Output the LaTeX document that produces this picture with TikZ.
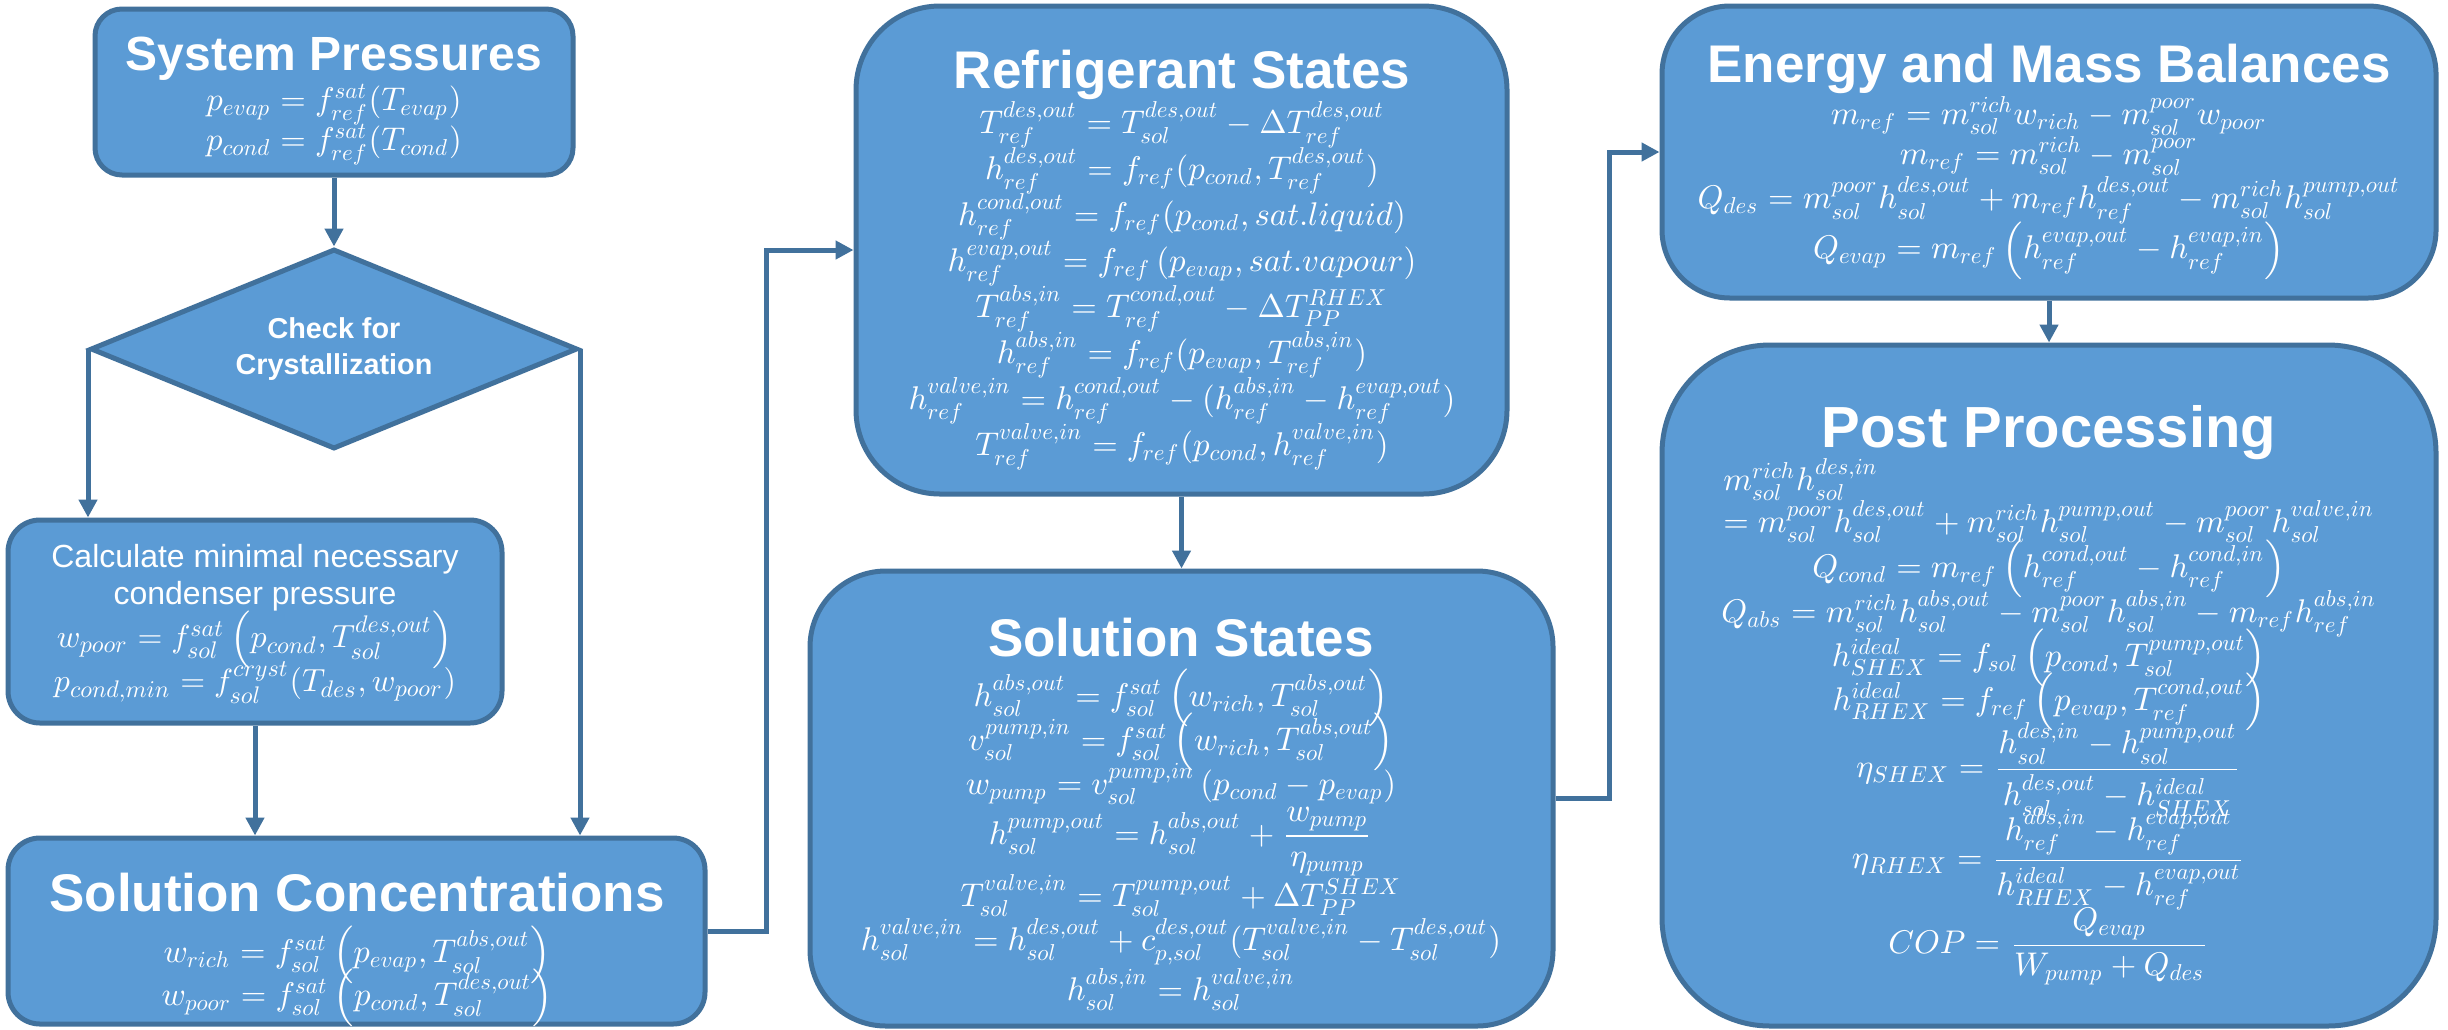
\documentclass[tikz,border=0pt]{standalone}
\usepackage{amsmath}
\usepackage[no-math]{fontspec}
\setmainfont{Liberation Sans}
\DeclareFontShape{OML}{cmm}{m}{it}{<->cmmi10}{\skewchar\font=127}
\DeclareFontShape{OT1}{cmr}{m}{n}{<->cmr10}{}
\DeclareFontShape{OMS}{cmsy}{m}{n}{<->cmsy10}{\skewchar\font=48}
\newcommand\tightlines{\lineskiplimit=-50pt\lineskip=0pt\relax}
\newsavebox\ppbox
\usetikzlibrary{shapes.geometric,arrows.meta,fit,calc}
\definecolor{bl}{HTML}{5B9BD5}
\definecolor{bd}{HTML}{41719C}
\definecolor{ln}{HTML}{41719C}
\tikzset{
  bx/.style={draw=bd, fill=bl, line width=1.25pt, inner sep=0pt},
  con/.style={draw=ln, line width=1.25pt, -{Triangle[length=4.5pt,width=4.5pt]}},
  ttl/.style={text=white, font=\bfseries\fontsize{13.25}{15}\selectfont, anchor=base, inner sep=0pt},
  eqs/.style={text=white, align=center, font=\fontsize{8.2}{#1}\selectfont\tightlines, inner sep=0pt},
  eqs/.default=10.5pt,
}
\begin{document}
\begin{tikzpicture}[x=0.25pt,y=-0.25pt]
\fill[white] (0,0) rectangle (2448,1029);
\useasboundingbox (0,0) rectangle (2448,1029);

% boxes
\node[bx, rounded corners=6.75pt, fit={(95,9)(573,175)}] (sp) {};
\node[bx, diamond, aspect=2.4, minimum width=121.75pt, minimum height=50pt, align=center, text=white,
      font=\bfseries\fontsize{7.2}{8.8}\selectfont] (dia) at (334,349) {Check for\\Crystallization};
\node[bx, rounded corners=8pt, fit={(8,520)(502,723)}] (calc) {};
\node[bx, rounded corners=8pt, fit={(8,838)(705,1024)}] (sc) {};
\node[bx, rounded corners=21pt, fit={(856,6)(1507,494)}] (rs) {};
\node[bx, rounded corners=19pt, fit={(810,571)(1553,1026)}] (ss) {};
\node[bx, rounded corners=17pt, fit={(1662,6)(2436,298)}] (emb) {};
\node[bx, rounded corners=27pt, fit={(1662,345)(2436,1026)}] (pp) {};

% connectors
\draw[con] (sp.south) -- (dia.north);
\draw[con] (dia.west) -- (dia.west |- calc.north);
\draw[con] (dia.east) -- (dia.east |- sc.north);
\draw[con] (calc.south) -- (calc.south |- sc.north);
\draw[con] (sc.east) -- ++(59,0) |- (rs.west);
\draw[con] (rs.south) -- (ss.north);
\draw[con] (ss.east) -- ++(54,0) |- (emb.west);
\draw[con] (emb.south) -- (pp.north);

% System Pressures
\node[ttl, font=\bfseries\fontsize{12}{14}\selectfont] (spt) at (334,70) {System Pressures};
\node[eqs=10pt] (spe) at (334,125) {$p_{evap}=f_{ref}^{sat}(T_{evap})$\\$p_{cond}=f_{ref}^{sat}(T_{cond})$};

% Calculate
\node[eqs=11pt, font=\fontsize{8}{11}\selectfont\tightlines] (calct) at (255,624) {Calculate minimal necessary\\[-1.75pt]condenser pressure\\[-0.25pt]
$w_{poor}=f_{sol}^{sat}\left(p_{cond},T_{sol}^{des,out}\right)$\\
$p_{cond,min}=f_{sol}^{cryst}(T_{des},w_{poor})$};

% Solution Concentrations
\node[ttl] (sct) at (357,911) {Solution Concentrations};
\node[eqs=10.75pt] (sce) at (357,976) {$w_{rich}=f_{sol}^{sat}\left(p_{evap},T_{sol}^{abs,out}\right)$\\
$w_{poor}=f_{sol}^{sat}\left(p_{cond},T_{sol}^{des,out}\right)$};

% Refrigerant States
\node[ttl] (rst) at (1182,88) {Refrigerant States};
\node[eqs=11.5pt] (rse) at (1182,286) {$T_{ref}^{des,out}=T_{sol}^{des,out}-\Delta T_{ref}^{des,out}$\\
$h_{ref}^{des,out}=f_{ref}(p_{cond},T_{ref}^{des,out})$\\
$h_{ref}^{cond,out}=f_{ref}(p_{cond},sat.liquid)$\\
$h_{ref}^{evap,out}=f_{ref}\left(p_{evap},sat.vapour\right)$\\
$T_{ref}^{abs,in}=T_{ref}^{cond,out}-\Delta T_{PP}^{RHEX}$\\
$h_{ref}^{abs,in}=f_{ref}(p_{evap},T_{ref}^{abs,in})$\\
$h_{ref}^{valve,in}=h_{ref}^{cond,out}-(h_{ref}^{abs,in}-h_{ref}^{evap,out})$\\
$T_{ref}^{valve,in}=f_{ref}(p_{cond},h_{ref}^{valve,in})$};

% Solution States
\node[ttl] (sst) at (1181,656) {Solution States};
\node[eqs=11pt] (sse) at (1181,840) {$h_{sol}^{abs,out}=f_{sol}^{sat}\left(w_{rich},T_{sol}^{abs,out}\right)$\\
$v_{sol}^{pump,in}=f_{sol}^{sat}\left(w_{rich},T_{sol}^{abs,out}\right)$\\
$w_{pump}=v_{sol}^{pump,in}\left(p_{cond}-p_{evap}\right)$\\[1.5pt]
$h_{sol}^{pump,out}=h_{sol}^{abs,out}+\dfrac{w_{pump}}{\eta_{pump}}$\\[4.5pt]
$T_{sol}^{valve,in}=T_{sol}^{pump,out}+\Delta T_{PP}^{SHEX}$\\
$h_{sol}^{valve,in}=h_{sol}^{des,out}+c_{p,sol}^{des,out}(T_{sol}^{valve,in}-T_{sol}^{des,out})$\\[1.5pt]
$h_{sol}^{abs,in}=h_{sol}^{valve,in}$};

% Energy and Mass Balances
\node[ttl] (embt) at (2049,82) {Energy and Mass Balances};
\node[eqs=10.5pt] (embe) at (2049,188) {$m_{ref}=m_{sol}^{rich}w_{rich}-m_{sol}^{poor}w_{poor}$\\[-0.5pt]
$m_{ref}=m_{sol}^{rich}-m_{sol}^{poor}$\\[0.5pt]
$Q_{des}=m_{sol}^{poor}h_{sol}^{des,out}+m_{ref}h_{ref}^{des,out}-m_{sol}^{rich}h_{sol}^{pump,out}$\\[2pt]
$Q_{evap}=m_{ref}\left(h_{ref}^{evap,out}-h_{ref}^{evap,in}\right)$};

% Post Processing
\node[ttl, font=\bfseries\fontsize{14.5}{16}\selectfont] (ppt) at (2049,447) {Post Processing};
\node[eqs=11pt] (ppe) at (2049,722) {\global\setbox\ppbox=\hbox{$=m_{sol}^{poor}h_{sol}^{des,out}+m_{sol}^{rich}h_{sol}^{pump,out}-m_{sol}^{poor}h_{sol}^{valve,in}$}\makebox[\wd\ppbox][l]{$m_{sol}^{rich}h_{sol}^{des,in}$}\\[-0.5pt]
\usebox\ppbox\\[0.25pt]
$Q_{cond}=m_{ref}\left(h_{ref}^{cond,out}-h_{ref}^{cond,in}\right)$\\[0.25pt]
$Q_{abs}=m_{sol}^{rich}h_{sol}^{abs,out}-m_{sol}^{poor}h_{sol}^{abs,in}-m_{ref}h_{ref}^{abs,in}$\\
$h_{SHEX}^{ideal}=f_{sol}\left(p_{cond},T_{sol}^{pump,out}\right)$\\
$h_{RHEX}^{ideal}=f_{ref}\left(p_{evap},T_{ref}^{cond,out}\right)$\\[5.75pt]
$\eta_{SHEX}=\dfrac{h_{sol}^{des,in}-h_{sol}^{pump,out}}{h_{sol}^{des,out}-h_{SHEX}^{ideal}}$\\[11.75pt]
$\eta_{RHEX}=\dfrac{h_{ref}^{abs,in}-h_{ref}^{evap,out}}{h_{RHEX}^{ideal}-h_{ref}^{evap,out}}$\\[10.25pt]
$COP=\dfrac{Q_{evap}}{W_{pump}+Q_{des}}$};
\end{tikzpicture}
\end{document}
